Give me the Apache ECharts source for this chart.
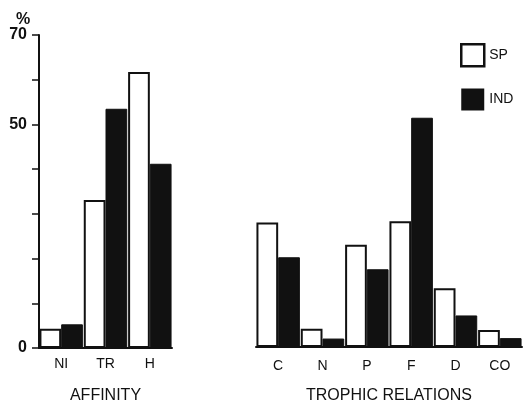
<!DOCTYPE html>
<html>
<head>
<meta charset="utf-8">
<script src="https://cdn.jsdelivr.net/npm/echarts@6/dist/echarts.min.js"></script>
<style>
  html, body { margin: 0; padding: 0; background: #fff; }
  #main { width: 527px; height: 409px; }
</style>
</head>
<body>
<div id="main"></div>
<script>
// affinity panel
const affinityCats = ['NI', 'TR', 'H'];
const affinitySP = [4.3, 33.1, 61.7];
const affinityIND = [5.3, 53.5, 41.2];
// trophic relations panel
const trophicCats = ['C', 'N', 'P', 'F', 'D', 'CO'];
const trophicSP = [28.0, 4.1, 23.0, 28.3, 13.2, 3.8];
const trophicIND = [20.2, 1.9, 17.5, 51.6, 7.1, 2.0];
const yTicks = [0, 50, 70];

const ink = '#111';
const font = 'Liberation Sans';

const spStyle = { color: '#fff', borderColor: ink, borderWidth: 2 };
const indStyle = { color: ink, borderColor: ink, borderWidth: 1 };

const chart = echarts.init(document.getElementById('main'));

chart.setOption({
  animation: false,
  backgroundColor: '#fff',
  textStyle: { fontFamily: font, color: ink },
  title: {
    text: '%',
    left: 11, top: 7,
    textStyle: { fontSize: 16, fontWeight: 'bold', color: ink, fontFamily: font }
  },
  legend: {
    orient: 'vertical',
    left: 455, top: 38,
    itemWidth: 23, itemHeight: 22,
    itemGap: 21,
    textStyle: { fontSize: 14, color: ink, fontFamily: font },
    data: [
      { name: 'SP', icon: 'rect', itemStyle: { color: '#fff', borderColor: ink, borderWidth: 2.5 } },
      { name: 'IND', icon: 'rect', itemStyle: { color: ink, borderWidth: 0 } }
    ]
  },
  grid: [
    { left: 39, top: 35, width: 133, bottom: 61 },
    { left: 256, top: 36, right: 5, bottom: 60 }
  ],
  xAxis: [
    {
      type: 'category', gridIndex: 0, data: affinityCats,
      name: 'AFFINITY', nameLocation: 'middle', nameGap: 40,
      nameTextStyle: { fontSize: 16, color: ink, fontFamily: font },
      axisLine: { lineStyle: { color: ink, width: 2 } },
      axisTick: { length: 7, lineStyle: { color: ink, width: 1.5 } },
      axisLabel: { fontSize: 14, color: ink, margin: 9 }
    },
    {
      type: 'category', gridIndex: 1, data: trophicCats,
      name: 'TROPHIC RELATIONS', nameLocation: 'middle', nameGap: 41,
      nameTextStyle: { fontSize: 16, color: ink, fontFamily: font },
      axisLine: { lineStyle: { color: ink, width: 2 } },
      axisTick: { length: 7, lineStyle: { color: ink, width: 1.5 } },
      axisLabel: { fontSize: 14, color: ink, margin: 12 }
    }
  ],
  yAxis: [
    {
      type: 'value', gridIndex: 0, min: 0, max: 70, interval: 10,
      axisLine: { show: true, lineStyle: { color: ink, width: 2 } },
      axisTick: { show: true, length: 7, lineStyle: { color: ink, width: 1.5 } },
      splitLine: { show: false },
      axisLabel: {
        fontSize: 16, fontWeight: 'bold', color: ink, margin: 12,
        formatter: v => (yTicks.indexOf(v) >= 0 ? String(v) : '')
      }
    },
    {
      type: 'value', gridIndex: 1, min: 0, max: 70, interval: 10, show: false
    }
  ],
  series: [
    {
      name: 'SP', type: 'bar', xAxisIndex: 0, yAxisIndex: 0,
      data: affinitySP, itemStyle: spStyle,
      barGap: '0%', barCategoryGap: '2%'
    },
    {
      name: 'IND', type: 'bar', xAxisIndex: 0, yAxisIndex: 0,
      data: affinityIND, itemStyle: indStyle,
      barGap: '0%', barCategoryGap: '2%'
    },
    {
      name: 'SP', type: 'bar', xAxisIndex: 1, yAxisIndex: 1,
      data: trophicSP, itemStyle: spStyle,
      barGap: '0%', barCategoryGap: '2%'
    },
    {
      name: 'IND', type: 'bar', xAxisIndex: 1, yAxisIndex: 1,
      data: trophicIND, itemStyle: indStyle,
      barGap: '0%', barCategoryGap: '2%'
    }
  ]
});
</script>
</body>
</html>
